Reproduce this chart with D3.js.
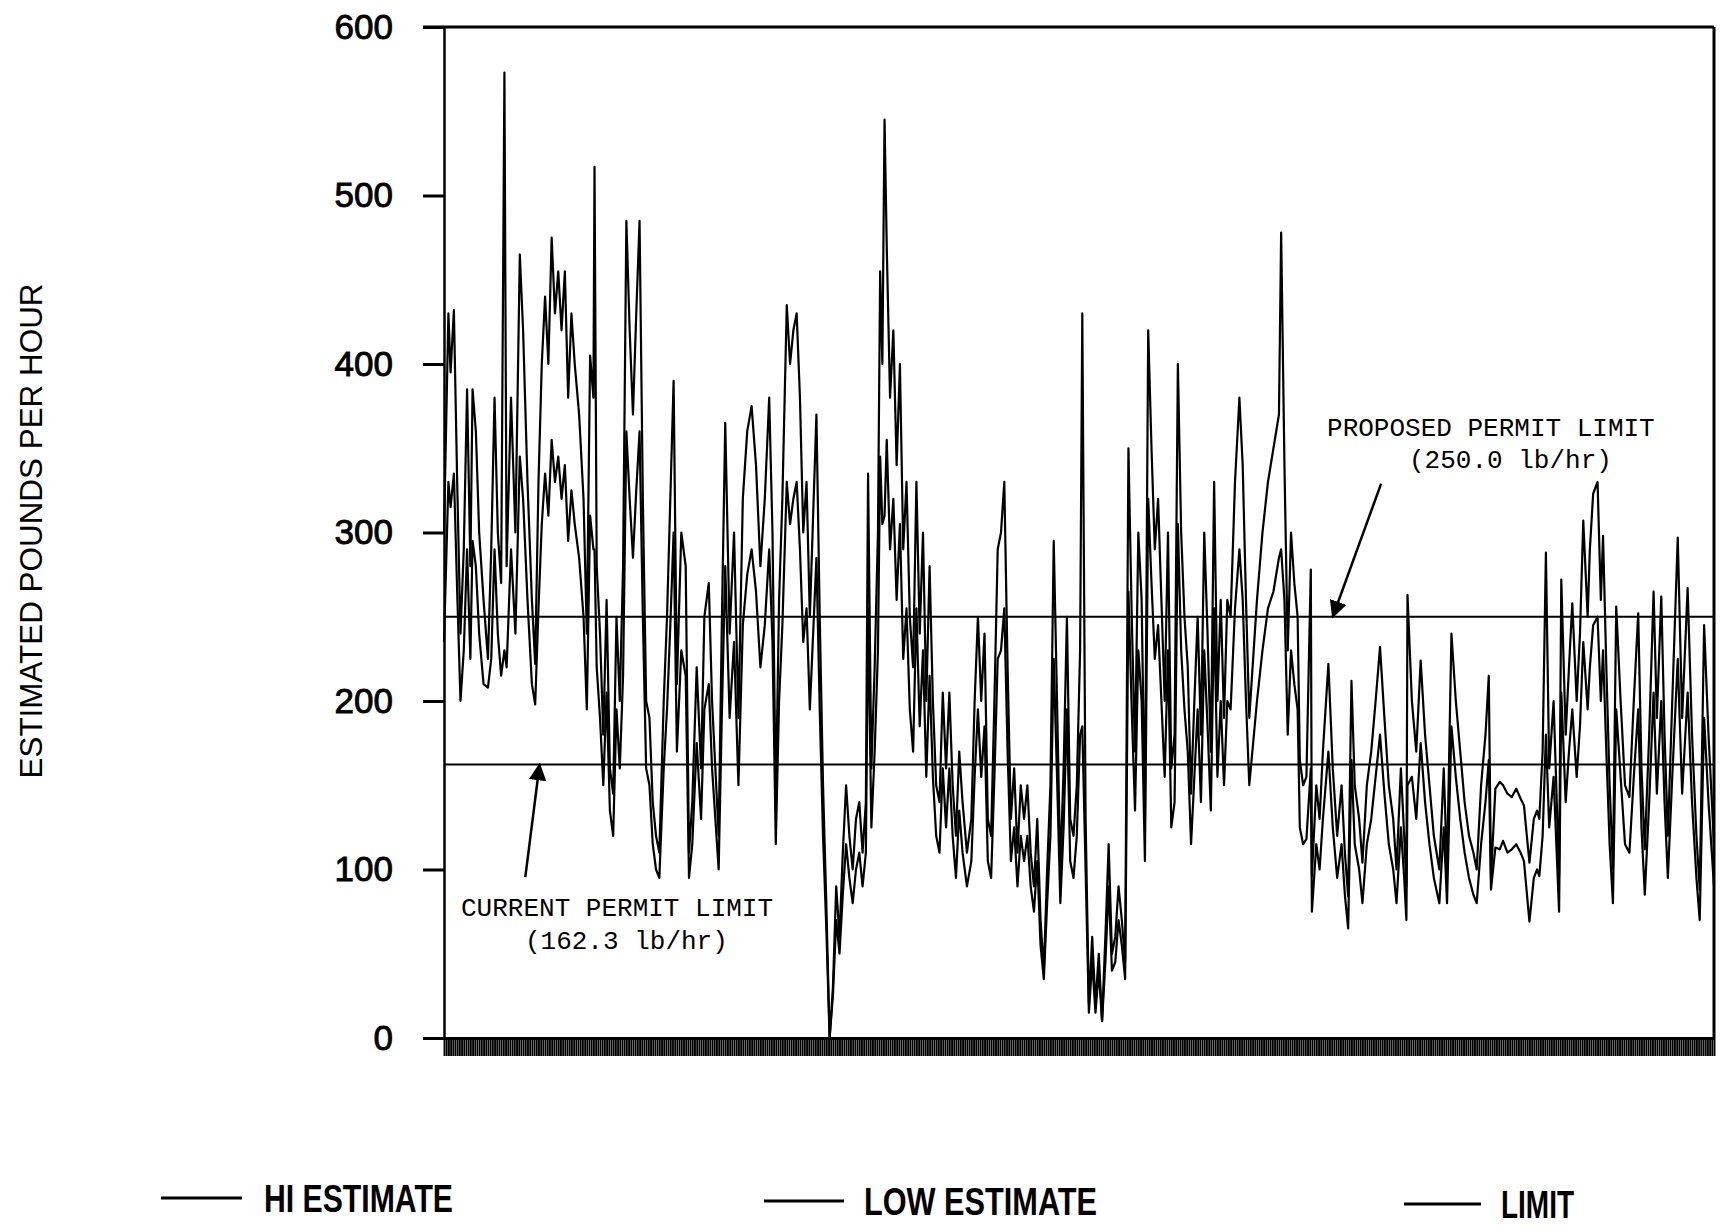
<!DOCTYPE html>
<html>
<head>
<meta charset="utf-8">
<script src="https://cdn.jsdelivr.net/npm/d3@7"></script>
<style>
  body { margin: 0; background: #fff; }
  svg { display: block; }
</style>
</head>
<body>
<div id="chart"></div>
<script>
// Hour index of each reading
const hours = [0,4,6,9,12,15,18,21,24,26,29,32,36,40,43,46,49,52,55,57,61,65,69,72,76,80,83,86,89,92,95,98,101,104,107,110,113,116,119,123,127,130,133,136,137,139,142,145,148,151,154,157,160,163,166,169,172,175,178,181,184,187,190,193,196,200,203,206,209,212,216,220,223,226,230,234,237,241,244,247,250,253,256,260,264,268,272,276,280,284,288,292,296,299,302,305,308,312,315,318,321,324,327,330,333,336,339,342,345,348,351,354,357,360,363,366,369,372,375,378,381,384,386,389,392,395,397,399,401,403,406,409,412,415,418,421,424,427,430,433,436,439,442,445,448,451,454,457,460,463,466,469,472,476,480,483,486,489,492,495,498,501,504,507,510,513,516,519,522,525,528,531,534,537,540,543,546,549,552,555,558,561,564,567,570,573,576,579,581,584,587,590,593,596,599,602,605,608,611,614,617,620,623,626,629,632,635,638,641,644,647,650,653,656,659,662,665,668,671,674,677,680,683,686,689,692,695,698,701,704,707,710,713,716,720,724,727,730,733,740,745,750,755,760,762,765,768,771,774,777,779,782,785,789,790,794,797,800,805,809,813,817,820,823,826,829,833,836,840,844,848,852,856,860,864,867,871,874,876,877,881,885,889,893,897,901,906,910,913,917,921,925,929,933,937,940,944,948,951,953,957,961,964,968,972,976,980,983,988,992,995,997,1000,1003,1006,1010,1015,1017,1021,1024,1027,1031,1034,1037,1041,1043,1046,1050,1053,1055,1058,1061,1064,1067,1071,1075,1079,1083,1087,1090,1093,1097,1101,1104,1108,1111,1114,1118,1123,1127,1132,1136,1140,1143,1147,1151,1156];

// HI estimate, lb/hr
const hiEstimate = [300,430,395,432,330,240,290,385,280,385,360,300,260,225,290,380,300,270,573,280,380,300,465,420,330,260,222,330,400,440,400,475,430,455,420,455,380,430,400,370,320,240,405,380,517,280,240,180,260,160,145,250,200,280,485,420,370,430,485,320,200,190,140,120,110,200,250,320,390,210,300,280,110,140,220,160,250,270,200,160,120,250,365,240,300,190,320,360,375,340,280,320,380,300,140,260,320,435,400,420,430,380,300,330,250,310,370,250,150,80,0,30,90,60,110,150,120,100,130,140,110,140,335,160,220,300,455,400,545,470,380,420,340,400,290,330,250,220,330,240,300,200,280,200,150,140,205,160,205,150,120,170,140,110,130,200,250,200,240,130,120,200,290,300,330,220,130,160,110,150,130,150,110,90,130,70,40,100,150,295,200,100,160,250,130,120,150,230,430,130,20,60,20,50,10,60,115,50,60,90,70,45,350,250,170,300,260,130,420,350,290,320,260,200,300,160,180,400,300,250,220,145,200,250,180,300,240,170,330,200,260,190,260,250,330,380,340,260,190,260,300,330,350,370,478,340,230,300,270,250,165,150,155,278,96,150,130,170,222,160,120,150,110,84,212,150,130,104,150,170,200,232,190,150,130,100,160,120,90,263,200,170,224,180,150,120,100,160,100,240,200,170,140,120,110,100,150,180,215,95,148,152,150,145,143,148,142,138,104,130,135,130,170,288,160,200,96,272,180,220,258,200,240,307,250,290,323,330,260,298,220,150,100,256,200,150,143,200,252,160,112,180,265,190,262,180,120,200,297,190,267,180,120,88,245,180,115];

// LOW estimate, lb/hr
const lowEstimate = [235,330,315,335,265,200,230,290,225,295,280,240,210,208,225,290,240,215,230,220,290,240,345,320,260,210,198,255,305,335,310,355,330,345,320,340,295,325,305,285,250,195,310,290,290,220,190,150,205,135,120,195,160,215,360,320,285,325,360,250,160,150,115,100,95,160,195,245,300,170,230,215,95,115,175,130,195,210,160,130,100,195,280,190,235,150,245,275,290,265,220,245,290,235,115,200,245,330,305,320,330,290,235,255,195,240,285,195,120,65,0,25,70,50,85,115,95,80,100,110,90,110,255,125,170,230,345,305,310,355,290,320,260,305,225,255,195,170,255,185,230,155,215,155,120,110,160,125,160,120,95,135,110,90,105,155,195,155,185,105,95,155,225,230,255,170,105,125,90,120,105,120,90,75,105,55,35,80,120,225,155,80,125,195,105,95,120,180,185,100,15,45,15,40,10,45,90,40,45,70,55,35,265,195,135,230,200,105,320,270,225,245,200,155,230,125,140,305,230,195,170,115,155,195,140,230,185,135,255,155,200,150,200,195,255,290,260,200,150,200,230,255,265,285,290,260,180,230,210,195,125,115,118,160,75,115,100,130,170,125,95,115,85,65,165,115,100,80,115,130,155,180,145,115,100,80,125,95,70,150,155,130,175,140,115,95,80,125,80,185,155,130,110,95,85,80,115,140,165,88,113,112,117,110,112,115,110,105,69,95,100,96,120,180,125,155,75,205,140,170,195,155,185,235,195,220,245,250,200,230,170,115,80,195,155,115,110,155,195,125,85,140,205,145,200,140,95,155,225,145,205,140,95,70,190,140,90];

// Permit limits, lb/hr
const currentLimit = 162.3;
const proposedLimit = 250.0;

// Axis tick values
const yTicks = [0, 100, 200, 300, 400, 500, 600];

// Legend labels
const legendLabels = ["HI ESTIMATE", "LOW ESTIMATE", "LIMIT"];

class EmissionChart
{
    constructor()
    {
        //Selecting the chart holder
        this.plotDiv = d3.select("#chart");

        //Page size and plot margins
        this.fullWidth = 1723;
        this.fullHeight = 1231;
        this.dimensions = {top: 27, bottom: 193, right: 9, left: 444};

        this.width = this.fullWidth - this.dimensions.left - this.dimensions.right;
        this.height = this.fullHeight - this.dimensions.top - this.dimensions.bottom;

        this.svg = this.plotDiv.append("svg")
            .attr("width", this.fullWidth)
            .attr("height", this.fullHeight);
    }

    plot()
    {
        let hiPoints = hours.map((h, i) => ({h: h, v: hiEstimate[i]}));
        let lowPoints = hours.map((h, i) => ({h: h, v: lowEstimate[i]}));

        //Scales
        let xScale = d3.scaleLinear()
            .domain([0, d3.max(hours)])
            .range([0, this.width]);

        let yScale = d3.scaleLinear()
            .domain([0, 600])
            .range([this.height, 0]);

        let g = this.svg.append("g")
            .attr("transform", "translate(" + this.dimensions.left + "," + this.dimensions.top + ")");

        //Y axis with long outside ticks
        let yAxis = g.append("g")
            .call(d3.axisLeft(yScale).tickValues(yTicks).tickSize(21).tickPadding(30).tickSizeOuter(0));
        yAxis.selectAll("line").attr("stroke", "#000").attr("stroke-width", 3);
        yAxis.select(".domain").attr("stroke", "#000").attr("stroke-width", 2.5);
        yAxis.selectAll("text")
            .attr("fill", "#000")
            .attr("stroke", "#000")
            .attr("stroke-width", 0.9)
            .style("font-family", "'Liberation Sans', Arial, sans-serif")
            .style("font-size", "35px");

        //Top and right border of the frame
        g.append("line")
            .attr("x1", -21).attr("x2", this.width)
            .attr("y1", yScale(600)).attr("y2", yScale(600))
            .attr("stroke", "#000").attr("stroke-width", 3);
        g.append("line")
            .attr("x1", this.width).attr("x2", this.width)
            .attr("y1", yScale(600)).attr("y2", yScale(0))
            .attr("stroke", "#000").attr("stroke-width", 3);

        //Bottom axis: dense tick band
        let xAxis = g.append("g")
            .attr("transform", "translate(0," + this.height + ")")
            .call(d3.axisBottom(xScale)
                .tickValues(d3.range(0, d3.max(hours) + 1, 2))
                .tickSize(18)
                .tickSizeOuter(0)
                .tickFormat(""));
        xAxis.selectAll("line").attr("stroke", "#000").attr("stroke-width", 1.9);
        xAxis.select(".domain").attr("stroke", "#000").attr("stroke-width", 3);

        //Limit lines
        [currentLimit, proposedLimit].forEach((lim) => {
            g.append("line")
                .attr("x1", 0).attr("x2", this.width)
                .attr("y1", yScale(lim)).attr("y2", yScale(lim))
                .attr("stroke", "#000").attr("stroke-width", 2.2);
        });

        //Estimate lines
        let line = d3.line()
            .x((d) => xScale(d.h))
            .y((d) => yScale(d.v));

        [lowPoints, hiPoints].forEach((pts) => {
            g.append("path")
                .datum(pts)
                .attr("fill", "none")
                .attr("stroke", "#000")
                .attr("stroke-width", 2.2)
                .attr("stroke-linejoin", "round")
                .attr("d", line);
        });

        //Arrow head marker
        this.svg.append("defs").append("marker")
            .attr("id", "arrowHead")
            .attr("viewBox", "0 0 10 10")
            .attr("refX", 9).attr("refY", 5)
            .attr("markerWidth", 7).attr("markerHeight", 7)
            .attr("markerUnits", "strokeWidth")
            .attr("orient", "auto")
            .append("path")
            .attr("d", "M0,0 L10,5 L0,10 z")
            .attr("fill", "#000");

        //Annotations
        let notes = [
            {lines: ["CURRENT PERMIT LIMIT", "(162.3 lb/hr)"], x: [15.5, 73.7], y: [72.4, 52.8],
             from: [74, 95.5], to: [87, currentLimit]},
            {lines: ["PROPOSED PERMIT LIMIT", "(250.0 lb/hr)"], x: [803.8, 878.4], y: [357, 338],
             from: [853, 329], to: [809, proposedLimit]}
        ];

        notes.forEach((n) => {
            n.lines.forEach((t, i) => {
                g.append("text")
                    .attr("x", xScale(n.x[i]))
                    .attr("y", yScale(n.y[i]))
                    .attr("fill", "#000")
                    .style("font-family", "'Courier New', 'Liberation Mono', monospace")
                    .style("font-size", "26px")
                    .text(t);
            });
            g.append("line")
                .attr("x1", xScale(n.from[0])).attr("y1", yScale(n.from[1]))
                .attr("x2", xScale(n.to[0])).attr("y2", yScale(n.to[1]))
                .attr("stroke", "#000").attr("stroke-width", 2.5)
                .attr("marker-end", "url(#arrowHead)");
        });

        //Y axis title
        this.svg.append("text")
            .attr("transform", "translate(42,531) rotate(-90)")
            .attr("text-anchor", "middle")
            .attr("fill", "#000")
            .style("font-family", "'Liberation Sans', Arial, sans-serif")
            .style("font-size", "31px")
            .attr("textLength", 495)
            .attr("lengthAdjust", "spacingAndGlyphs")
            .text("ESTIMATED POUNDS PER HOUR");

        //Legend
        let legend = [
            {label: legendLabels[0], x1: 161, x2: 242, tx: 264, tw: 189, y: 1198},
            {label: legendLabels[1], x1: 764, x2: 844, tx: 864, tw: 233, y: 1201},
            {label: legendLabels[2], x1: 1404, x2: 1481, tx: 1501, tw: 73, y: 1204}
        ];
        legend.forEach((l) => {
            this.svg.append("line")
                .attr("x1", l.x1).attr("x2", l.x2)
                .attr("y1", l.y).attr("y2", l.y)
                .attr("stroke", "#000").attr("stroke-width", 3);
            this.svg.append("text")
                .attr("x", l.tx)
                .attr("y", l.y + 14)
                .attr("fill", "#000")
                .style("font-family", "'Liberation Sans Narrow', 'Liberation Sans', Arial, sans-serif")
                .style("font-weight", "bold")
                .style("font-size", "39px")
                .attr("textLength", l.tw)
                .attr("lengthAdjust", "spacingAndGlyphs")
                .text(l.label);
        });
    }
}

let chart = new EmissionChart();
chart.plot();
</script>
</body>
</html>
